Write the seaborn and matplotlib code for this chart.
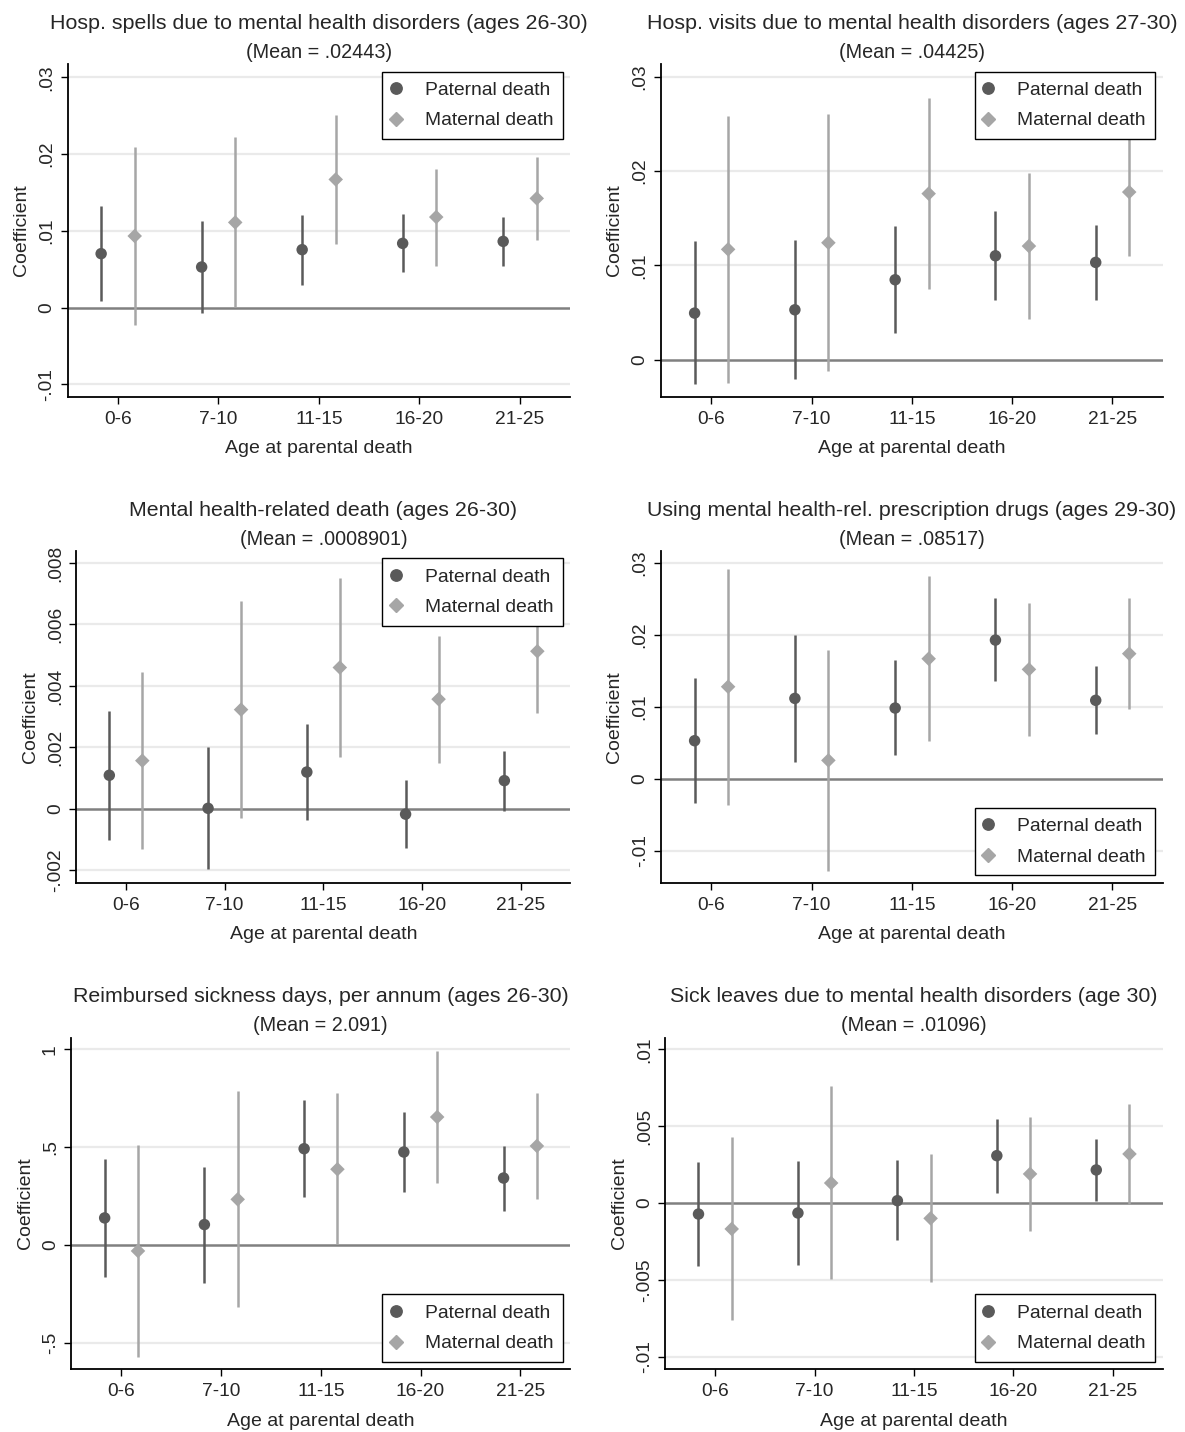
import pandas as pd
import matplotlib
matplotlib.use("Agg")
import matplotlib.pyplot as plt
from matplotlib.lines import Line2D
import seaborn as sns

# categories
age_groups = ["0-6", "7-10", "11-15", "16-20", "21-25"]
series_names = ["Paternal death", "Maternal death"]

# panel titles and means
titles = [
    "Hosp. spells due to mental health disorders (ages 26-30)",
    "Hosp. visits due to mental health disorders (ages 27-30)",
    "Mental health-related death (ages 26-30)",
    "Using mental health-rel. prescription drugs (ages 29-30)",
    "Reimbursed sickness days, per annum (ages 26-30)",
    "Sick leaves due to mental health disorders (age 30)",
]
means = ["(Mean = .02443)", "(Mean = .04425)", "(Mean = .0008901)",
         "(Mean = .08517)", "(Mean = 2.091)", "(Mean = .01096)"]

# panel 1: hospital spells
spells_pat = [0.00703, 0.00529, 0.00755, 0.00837, 0.00863]
spells_pat_lo = [0.00082, -0.00069, 0.00295, 0.00460, 0.00538]
spells_pat_hi = [0.01319, 0.01128, 0.01210, 0.01219, 0.01180]
spells_mat = [0.00933, 0.01110, 0.01670, 0.01180, 0.01423]
spells_mat_lo = [-0.00226, 0.00005, 0.00829, 0.00547, 0.00885]
spells_mat_hi = [0.02095, 0.02226, 0.02508, 0.01809, 0.01965]

# panel 2: hospital visits
visits_pat = [0.00495, 0.00530, 0.00848, 0.01102, 0.01032]
visits_pat_lo = [-0.00258, -0.00201, 0.00286, 0.00629, 0.00629]
visits_pat_hi = [0.01258, 0.01269, 0.01417, 0.01580, 0.01431]
visits_mat = [0.01170, 0.01240, 0.01760, 0.01205, 0.01777]
visits_mat_lo = [-0.00240, -0.00113, 0.00749, 0.00435, 0.01102]
visits_mat_hi = [0.02583, 0.02600, 0.02770, 0.01975, 0.02450]

# panel 3: mental health-related death
death_pat = [0.001095, 0.00002, 0.00120, -0.00017, 0.00092]
death_pat_lo = [-0.00101, -0.00195, -0.00036, -0.00128, -0.00007]
death_pat_hi = [0.00319, 0.002005, 0.00275, 0.00093, 0.00189]
death_mat = [0.00157, 0.00323, 0.00460, 0.00357, 0.00513]
death_mat_lo = [-0.00130, -0.00028, 0.00169, 0.00151, 0.00312]
death_mat_hi = [0.00446, 0.00676, 0.00751, 0.00563, 0.00714]

# panel 4: prescription drugs
drugs_pat = [0.00532, 0.01120, 0.00986, 0.01930, 0.01093]
drugs_pat_lo = [-0.00329, 0.00240, 0.00329, 0.01361, 0.00620]
drugs_pat_hi = [0.01398, 0.02000, 0.01653, 0.02514, 0.01565]
drugs_mat = [0.01282, 0.00259, 0.01671, 0.01523, 0.01741]
drugs_mat_lo = [-0.00356, -0.01273, 0.00523, 0.00597, 0.00972]
drugs_mat_hi = [0.02921, 0.01792, 0.02820, 0.02444, 0.02519]

# panel 5: sickness days
sick_pat = [0.138, 0.104, 0.492, 0.475, 0.342]
sick_pat_lo = [-0.165, -0.194, 0.245, 0.271, 0.174]
sick_pat_hi = [0.4395, 0.400, 0.741, 0.680, 0.508]
sick_mat = [-0.031, 0.233, 0.387, 0.654, 0.506]
sick_mat_lo = [-0.572, -0.317, 0.003, 0.315, 0.233]
sick_mat_hi = [0.511, 0.787, 0.775, 0.991, 0.778]

# panel 6: sick leaves
leave_pat = [-0.00072, -0.00065, 0.00015, 0.00308, 0.00215]
leave_pat_lo = [-0.00408, -0.00401, -0.00243, 0.00067, 0.00015]
leave_pat_hi = [0.00267, 0.00271, 0.00278, 0.00549, 0.00416]
leave_mat = [-0.00169, 0.00130, -0.00100, 0.00189, 0.00319]
leave_mat_lo = [-0.00764, -0.00497, -0.00516, -0.00180, -0.00004]
leave_mat_hi = [0.00427, 0.00761, 0.00317, 0.00560, 0.00644]

panels = [
    (spells_pat, spells_pat_lo, spells_pat_hi, spells_mat, spells_mat_lo, spells_mat_hi),
    (visits_pat, visits_pat_lo, visits_pat_hi, visits_mat, visits_mat_lo, visits_mat_hi),
    (death_pat, death_pat_lo, death_pat_hi, death_mat, death_mat_lo, death_mat_hi),
    (drugs_pat, drugs_pat_lo, drugs_pat_hi, drugs_mat, drugs_mat_lo, drugs_mat_hi),
    (sick_pat, sick_pat_lo, sick_pat_hi, sick_mat, sick_mat_lo, sick_mat_hi),
    (leave_pat, leave_pat_lo, leave_pat_hi, leave_mat, leave_mat_lo, leave_mat_hi),
]

yticks = [
    ([-0.01, 0, 0.01, 0.02, 0.03], ["-.01", "0", ".01", ".02", ".03"]),
    ([0, 0.01, 0.02, 0.03], ["0", ".01", ".02", ".03"]),
    ([-0.002, 0, 0.002, 0.004, 0.006, 0.008], ["-.002", "0", ".002", ".004", ".006", ".008"]),
    ([-0.01, 0, 0.01, 0.02, 0.03], ["-.01", "0", ".01", ".02", ".03"]),
    ([-0.5, 0, 0.5, 1], ["-.5", "0", ".5", "1"]),
    ([-0.01, -0.005, 0, 0.005, 0.01], ["-.01", "-.005", "0", ".005", ".01"]),
]
ylims = [(-0.0116, 0.0317), (-0.0039, 0.0313), (-0.0024, 0.00839),
         (-0.0144, 0.03167), (-0.636, 1.06), (-0.01082, 0.01076)]
legend_loc = ["upper right", "upper right", "upper right",
              "lower right", "lower right", "lower right"]

# axes boxes in figure fractions
boxes = [
    (0.0571, 0.7230, 0.4241, 0.2321),
    (0.5580, 0.7230, 0.4231, 0.2321),
    (0.0645, 0.3836, 0.4167, 0.2316),
    (0.5580, 0.3836, 0.4231, 0.2316),
    (0.0603, 0.0438, 0.4208, 0.2316),
    (0.5615, 0.0438, 0.4196, 0.2316),
]

dark = "#5a5a5a"
light = "#a6a6a6"
offset = 0.167

sns.set_theme(style="white")
plt.rcParams['font.family'] = ['Liberation Sans', 'DejaVu Sans']

fig = plt.figure(figsize=(11.85, 14.32), dpi=100)
fig.patch.set_facecolor("white")

for i, (pat, pat_lo, pat_hi, mat, mat_lo, mat_hi) in enumerate(panels):
    ax = fig.add_axes(boxes[i])
    rows = []
    for k, g in enumerate(age_groups):
        rows.append({"group": g, "pos": k + 1 - offset, "parent": series_names[0],
                     "coef": pat[k], "lo": pat_lo[k], "hi": pat_hi[k]})
        rows.append({"group": g, "pos": k + 1 + offset, "parent": series_names[1],
                     "coef": mat[k], "lo": mat_lo[k], "hi": mat_hi[k]})
    df = pd.DataFrame(rows)

    ticks, labels = yticks[i]
    for t in ticks:
        if t != 0:
            ax.axhline(t, color="#eaeaea", lw=1.6, zorder=0)
    ax.axhline(0, color="#808080", lw=1.8, zorder=1)

    for name, col in zip(series_names, [dark, light]):
        sub = df[df["parent"] == name]
        ax.vlines(sub["pos"], sub["lo"], sub["hi"], color=col, lw=1.8, zorder=2)

    sns.scatterplot(data=df, x="pos", y="coef", hue="parent", style="parent",
                    hue_order=series_names, style_order=series_names,
                    palette=[dark, light], markers={"Paternal death": "o", "Maternal death": "D"},
                    size="parent", sizes={"Paternal death": 68, "Maternal death": 55},
                    linewidth=0, legend=False, ax=ax, zorder=3)

    ax.set_xlim(0.5, 5.5)
    ax.set_ylim(*ylims[i])
    ax.set_xticks(range(1, 6))
    ax.set_xticklabels(age_groups, fontsize=13.8)
    ax.set_yticks(ticks)
    ax.set_yticklabels(labels, fontsize=13.8, rotation=90, va="center")
    ax.tick_params(axis="both", direction="out", length=5, width=1, color="black",
                   left=True, bottom=True, pad=4)
    ax.tick_params(axis="x", pad=5)
    ax.set_xlabel("Age at parental death", fontsize=14, labelpad=9)
    ax.set_ylabel("Coefficient", fontsize=14, labelpad=6)
    for s in ["top", "right"]:
        ax.spines[s].set_visible(False)
    for s in ["left", "bottom"]:
        ax.spines[s].set_color("black")
        ax.spines[s].set_linewidth(1.3)
    ax.grid(False)

    # title and mean line, offsets in points above the plot area
    ax.annotate(titles[i], xy=(0.5, 1), xycoords="axes fraction", xytext=(0, 29.5),
                textcoords="offset points", ha="center", va="center", fontsize=15.4)
    ax.annotate(means[i], xy=(0.5, 1), xycoords="axes fraction", xytext=(0, 8.6),
                textcoords="offset points", ha="center", va="center", fontsize=14.2)

    handles = [Line2D([], [], marker="o", ls="", color=dark, ms=8.2),
               Line2D([], [], marker="D", ls="", color=light, ms=7.0)]
    leg = ax.legend(handles, series_names, loc=legend_loc[i], fontsize=13.9,
                    frameon=True, fancybox=False, framealpha=1, edgecolor="black",
                    borderaxespad=0.38, borderpad=0.5, labelspacing=0.68,
                    handlelength=0.4, handletextpad=1.3)
    leg.get_frame().set_linewidth(1.0)
    leg.set_zorder(5)

fig.savefig("out.png", dpi=100, facecolor="white")
